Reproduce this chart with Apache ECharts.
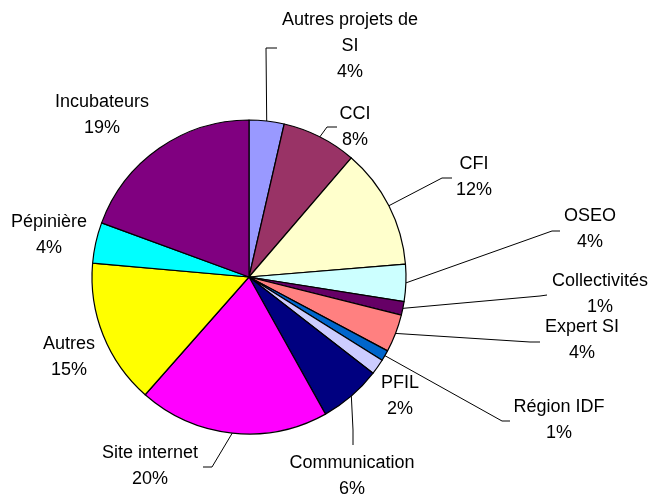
<!DOCTYPE html>
<html>
<head>
<meta charset="utf-8">
<script src="https://cdn.jsdelivr.net/npm/echarts@6/dist/echarts.min.js"></script>
<style>
  html, body { margin: 0; padding: 0; background: #fff; }
  #chart { width: 650px; height: 497px; }
</style>
</head>
<body>
<div id="chart"></div>
<script>
// parts, clockwise from 12 o'clock
const names = ['Autres projets de SI', 'CCI', 'CFI', 'OSEO', 'Collectivités', 'Expert SI',
  'Région IDF', 'PFIL', 'Communication', 'Site internet', 'Autres', 'Pépinière', 'Incubateurs'];
const shares = [3.6, 7.7, 12.4, 3.8, 1.4, 3.9, 1.1, 1.6, 6.4, 19.6, 14.9, 4.2, 19.4];
const colors = ['#9999FF', '#993366', '#FFFFCC', '#CCFFFF', '#660066', '#FF8080',
  '#0066CC', '#CCCCFF', '#000080', '#FF00FF', '#FFFF00', '#00FFFF', '#800080'];

// label centres and leader elbows (null = no leader line)
const labelAt = [[350, 46], [355, 127], [474, 177], [590, 229], [600, 294], [582, 340],
  [559, 420], [400, 396], [352, 476], [150, 466], [69, 357], [49, 235], [102, 115]];
const leader = [
  [[266, 48], [277, 48]],
  [[327, 127], [337, 127]],
  [[442, 178], [452, 178]],
  [[552, 231], [560, 231]],
  [[540, 296], [547, 295]],
  [[530, 342], [540, 342]],
  [[502, 421], [510, 421]],
  null,
  [[353, 430], [353, 445]],
  [[212, 467], [203, 467]],
  null, null, null
];

const chart = echarts.init(document.getElementById('chart'));

chart.setOption({
  animation: false,
  series: [{
    type: 'pie',
    center: [249, 277],
    radius: 157,
    startAngle: 90,
    clockwise: true,
    avoidLabelOverlap: false,
    itemStyle: { borderColor: '#000', borderWidth: 1.2 },
    label: {
      show: true,
      position: 'outside',
      color: '#000',
      fontFamily: 'Liberation Sans, Arial, sans-serif',
      fontSize: 18,
      lineHeight: 26,
      align: 'center',
      formatter: p => p.name.replace(' de ', ' de\n') + '\n' + Math.round(p.percent) + '%'
    },
    labelLine: {
      show: true,
      lineStyle: { color: '#000', width: 1 }
    },
    labelLayout: function (p) {
      const i = p.dataIndex;
      const res = { x: labelAt[i][0], y: labelAt[i][1], align: 'center', verticalAlign: 'middle' };
      if (leader[i] && p.labelLinePoints) {
        res.labelLinePoints = [p.labelLinePoints[0], leader[i][0], leader[i][1]];
      }
      return res;
    },
    emphasis: { disabled: true },
    data: names.map((n, i) => ({
      name: n,
      value: shares[i],
      itemStyle: { color: colors[i] },
      labelLine: { show: leader[i] !== null }
    }))
  }]
});
</script>
</body>
</html>
